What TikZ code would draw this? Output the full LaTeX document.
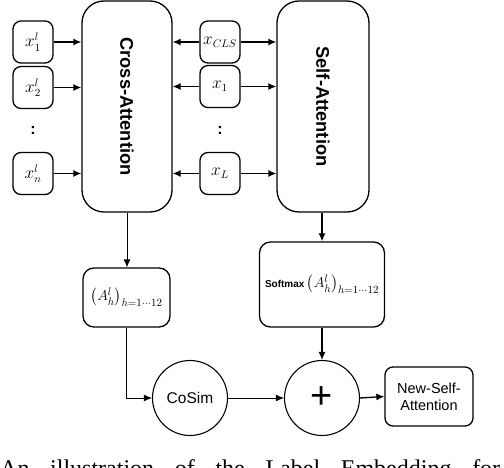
\documentclass[tikz,border=0pt]{standalone}
\usepackage{amsmath,amssymb}
\usepackage{fontspec}
\setsansfont{Liberation Sans}
\newfontfamily\capfont{Liberation Serif}
\usetikzlibrary{arrows.meta,shapes}
\tikzset{
  tok/.style={draw, line width=1.3pt, rounded corners=8pt, minimum width=40pt, minimum height=42pt, inner sep=0pt, font=\fontsize{16}{18}\selectfont},
  attbox/.style={draw, line width=1.3pt, rounded corners=22pt, minimum height=211pt, inner sep=0pt, font=\sffamily\bfseries\fontsize{18.3}{20}\selectfont},
  midbox/.style={draw, line width=1.3pt, rounded corners=11pt, inner sep=0pt},
  op/.style={draw, circle, line width=1.1pt, minimum size=75pt, inner sep=0pt},
  dots/.style={font=\sffamily\bfseries\fontsize{16}{18}\selectfont},
  arr/.style={line width=1.3pt, -{Latex[length=8pt,width=7pt]}},
  thinarr/.style={line width=0.9pt, -{Latex[length=8pt,width=7pt]}}
}
\begin{document}
\begin{tikzpicture}[x=1pt,y=-1pt]
\clip (0,0) rectangle (504,468);
% token boxes
\node[tok] (xa1) at (33,42) {$x_1^l$};
\node[tok] (xa2) at (33,87.5) {$x_2^l$};
\node[dots] (dla) at (33,130) {:};
\node[tok] (xan) at (33,173.5) {$x_n^l$};
\node[tok] (cls) at (220,42) {$x_{CLS}$};
\node[tok] (xb1) at (220,86.5) {$x_1$};
\node[dots] (dlb) at (220,130) {:};
\node[tok] (xbL) at (220,173.5) {$x_L$};
% attention blocks
\node[attbox, minimum width=90pt] (cross) at (127,106.5) {\rotatebox{-90}{Cross-Attention}};
\node[attbox, minimum width=92pt] (self) at (323,106.5) {\rotatebox{-90}{Self-Attention}};
\node[midbox, minimum width=87pt, minimum height=59pt, font=\fontsize{15}{17}\selectfont] (attn) at (126.5,297.5) {$\left(A_h^l\right)_{h=1\cdots12}$};
\node[midbox, minimum width=125pt, minimum height=85pt, font=\fontsize{15}{17}\selectfont] (soft) at (322,284.5) {{\sffamily\bfseries\fontsize{10}{12}\selectfont Softmax}\,$\left(A_h^l\right)_{h=1\cdots12}$};
\node[op, font=\sffamily\fontsize{15.5}{18}\selectfont] (cosim) at (190,398) {CoSim};
\node[op, font=\sffamily\fontsize{38}{40}\selectfont] (plus) at (322,398) {+};
\node[midbox, rounded corners=8pt, minimum width=88pt, minimum height=59pt, align=center, font=\sffamily\fontsize{14.5}{17}\selectfont] (newsa) at (429,396.5) {New-Self-\\Attention};
% connectors
\foreach \n in {xa1,xa2,xan} \draw[arr] (\n.east) -- (\n.east -| cross.west);
\foreach \n in {cls,xb1,xbL} {
  \draw[arr] (\n.west) -- (\n.west -| cross.east);
  \draw[arr] (\n.east) -- (\n.east -| self.west);
}
\draw[thinarr] (cross.south) -- (cross.south |- attn.north);
\draw[arr] (self.south -| soft.north) -- (soft.north);
\draw[thinarr] (attn.south) |- (cosim.west);
\draw[thinarr] (cosim.east) -- (plus.west);
\draw[arr] (soft.south) -- (plus.north);
\draw[arr] (plus.east) -- (newsa.west);
% caption, cut off by the page
\node[anchor=base west, inner sep=0pt, font=\capfont\fontsize{24}{26}\selectfont] (cap) at (0,476) {\hbox to 500pt{An\hfil illustration\hfil of\hfil the\hfil Label\hfil Embedding\hfil for}};
\end{tikzpicture}
\end{document}
